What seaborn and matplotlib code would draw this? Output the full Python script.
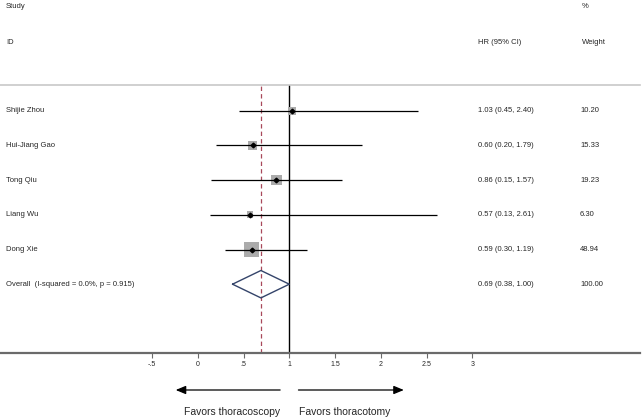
import numpy as np
import pandas as pd
import matplotlib.pyplot as plt
import seaborn as sb
from matplotlib import transforms

# Forest plot data
studies = ['Shijie Zhou', 'Hui-Jiang Gao', 'Tong Qiu', 'Liang Wu', 'Dong Xie']
hr = [1.03, 0.60, 0.86, 0.57, 0.59]
ci_low = [0.45, 0.20, 0.15, 0.13, 0.30]
ci_high = [2.40, 1.79, 1.57, 2.61, 1.19]
weights = [10.20, 15.33, 19.23, 6.30, 48.94]

overall_label = 'Overall  (I-squared = 0.0%, p = 0.915)'
overall_hr = 0.69
overall_low = 0.38
overall_high = 1.00
overall_weight = 100.00

tick_values = [-0.5, 0, 0.5, 1, 1.5, 2, 2.5, 3]
tick_labels = ['-.5', '0', '.5', '1', '1.5', '2', '2.5', '3']

sb.set_style('white')
plt.rcParams['font.family'] = ['Liberation Sans', 'DejaVu Sans']

# rows are placed in pixel units from the top of the picture
row_y = 110.7 + 34.7 * np.arange(len(studies))
overall_y = row_y[-1] + 34.7

data = pd.DataFrame({'study': studies, 'hr': hr, 'low': ci_low,
                     'high': ci_high, 'weight': weights, 'y': row_y})

fig = plt.figure(figsize=(6.44, 4.2), dpi=100)
W, H = 644, 420
top_px, axis_px, right_px = 84.7, 352.7, 640
ax = fig.add_axes([0, (H - axis_px) / H, right_px / W, (axis_px - top_px) / H])

# x scale: value 0 at 197.7 px, 91.6 px per unit
px0, unit = 197.7, 91.6
ax.set_xlim(-px0 / unit, (right_px - px0) / unit)
ax.set_ylim(axis_px, top_px)

# weight squares, area grows with weight
sb.scatterplot(data=data, x='hr', y='y', size='weight', sizes=(9, 120),
               size_norm=(0, max(weights)), marker='s', color='#ababab',
               linewidth=0, legend=False, ax=ax, zorder=2)
ax.hlines(data['y'], data['low'], data['high'], color='black', lw=0.9, zorder=3)
ax.plot(data['hr'], data['y'], 'D', color='black', markersize=2.4, zorder=4)

# null line and pooled estimate line
ax.axvline(1, color='black', lw=1.0, zorder=1)
ax.axvline(overall_hr, color='#a8485a', lw=0.9, dashes=(3.5, 2.5), zorder=1)

# pooled diamond
half = 13.7
ax.plot([overall_low, overall_hr, overall_high, overall_hr, overall_low],
        [overall_y, overall_y - half, overall_y, overall_y + half, overall_y],
        color='#34446a', lw=1.0, zorder=5)

# axis styling
for side in ['left', 'right']:
    ax.spines[side].set_visible(False)
ax.spines['top'].set_color('#c8c8c8')
ax.spines['top'].set_linewidth(1.2)
ax.spines['bottom'].set_color('#6a6a6a')
ax.spines['bottom'].set_linewidth(1.6)
ax.set_yticks([])
ax.set_xticks(tick_values)
ax.set_xticklabels(tick_labels, fontsize=5)
ax.tick_params(axis='x', direction='out', length=3.5, width=0.8,
               color='#6a6a6a', pad=2.5, bottom=True)
ax.set_xlabel('')
ax.set_ylabel('')
ax.patch.set_alpha(0)

# text columns: x in figure-pixel fraction, y in row pixels
tr = transforms.blended_transform_factory(ax.transAxes, ax.transData)
def col(px):
    return px / right_px

fs = 5.5
ax.text(col(6), 7, 'Study', transform=tr, fontsize=fs, va='center', clip_on=False)
ax.text(col(6), 43, 'ID', transform=tr, fontsize=fs, va='center', clip_on=False)
ax.text(col(478), 43, 'HR (95% CI)', transform=tr, fontsize=fs, va='center', clip_on=False)
ax.text(col(582), 7, '%', transform=tr, fontsize=fs, va='center', clip_on=False)
ax.text(col(582), 43, 'Weight', transform=tr, fontsize=fs, va='center', clip_on=False)

for i, row in data.iterrows():
    ax.text(col(6), row['y'], row['study'], transform=tr, fontsize=fs, va='center')
    ax.text(col(478), row['y'], '%.2f (%.2f, %.2f)' % (row['hr'], row['low'], row['high']),
            transform=tr, fontsize=fs, va='center')
    ax.text(col(580), row['y'], '%.2f' % row['weight'], transform=tr, fontsize=fs, va='center')

ax.text(col(6), overall_y, overall_label, transform=tr, fontsize=fs, va='center')
ax.text(col(478), overall_y, '%.2f (%.2f, %.2f)' % (overall_hr, overall_low, overall_high),
        transform=tr, fontsize=fs, va='center')
ax.text(col(580), overall_y, '%.2f' % overall_weight, transform=tr, fontsize=fs, va='center')

# favours arrows under the axis
arrow_y = 390
ax.annotate('', xy=(-0.24, arrow_y), xytext=(0.90, arrow_y), annotation_clip=False,
            arrowprops=dict(arrowstyle='-|>,head_length=0.6,head_width=0.25',
                            color='black', lw=0.9, shrinkA=0, shrinkB=0))
ax.annotate('', xy=(2.25, arrow_y), xytext=(1.10, arrow_y), annotation_clip=False,
            arrowprops=dict(arrowstyle='-|>,head_length=0.6,head_width=0.25',
                            color='black', lw=0.9, shrinkA=0, shrinkB=0))
ax.text(0.37, 412, 'Favors thoracoscopy', fontsize=7.5, ha='center', va='center', clip_on=False)
ax.text(1.61, 412, 'Favors thoracotomy', fontsize=7.5, ha='center', va='center', clip_on=False)

fig.savefig('out.png', dpi=100)
